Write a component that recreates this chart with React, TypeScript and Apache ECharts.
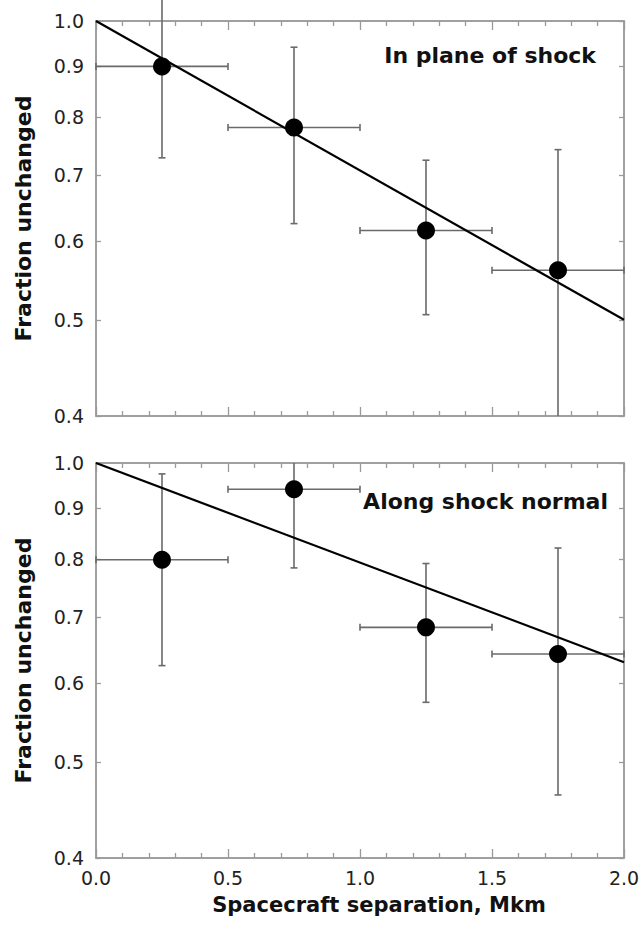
import React, { useEffect, useRef } from "react";
import * as echarts from "echarts";

// Bin centres and widths (Mkm)
const xCenters = [0.25, 0.75, 1.25, 1.75];
const xLow = [0.0, 0.5, 1.0, 1.5];
const xHigh = [0.5, 1.0, 1.5, 2.0];

// Panel 1: In plane of shock
const planeFrac = [0.9, 0.781, 0.615, 0.561];
const planeLow = [0.728, 0.625, 0.506, 0.4];
const planeHigh = [1.05, 0.941, 0.724, 0.742];
const planeFit = [1.0, 0.5];

// Panel 2: Along shock normal
const normalFrac = [0.799, 0.941, 0.683, 0.642];
const normalLow = [0.625, 0.784, 0.574, 0.463];
const normalHigh = [0.975, 1.0, 0.792, 0.821];
const normalFit = [1.0, 0.63];

const fitX = [0.0, 2.0];
const yTicks = [0.4, 0.5, 0.6, 0.7, 0.8, 0.9, 1.0];
const yMin = 0.4;
const yMax = 1.0;

const panelTitles = ["In plane of shock", "Along shock normal"];
const yTitle = "Fraction unchanged";
const xTitle = "Spacecraft separation, Mkm";

const L = (v: number) => Math.log10(v);

const FONT = "DejaVu Sans";
const AXIS_GRAY = "#9a9a9a";
const BAR_GRAY = "#6a6a6a";

export default function App() {
  const ref = useRef<HTMLDivElement>(null);

  useEffect(() => {
    if (!ref.current) return;
    const chart = echarts.init(ref.current, null, { renderer: "svg" });

    const gridBase = {
      left: 96,
      width: 528,
      height: 395,
      containLabel: false,
      outerBoundsMode: "none",
      show: true,
      borderColor: AXIS_GRAY,
      borderWidth: 1.5,
      backgroundColor: "transparent",
    };
    const grids = [
      { ...gridBase, top: 21 },
      { ...gridBase, top: 463 },
    ];

    const mkX = (gridIndex: number, position: string, labels: boolean, name?: string) => ({
      type: "value",
      gridIndex,
      position,
      min: 0,
      max: 2,
      interval: 0.5,
      name: name || "",
      nameLocation: "middle",
      nameGap: 36,
      nameMoveOverlap: false,
      nameTextStyle: {
        fontFamily: FONT,
        fontWeight: "bold",
        fontSize: 21,
        color: "#111",
        padding: [0, 0, 0, 38],
      },
      axisLine: { show: true, onZero: false, lineStyle: { color: AXIS_GRAY, width: 1.5 } },
      axisTick: { show: true, inside: true, length: 9, lineStyle: { color: AXIS_GRAY, width: 1.3 } },
      minorTick: { show: true, splitNumber: 5, length: 5, lineStyle: { color: AXIS_GRAY, width: 1.3 } },
      splitLine: { show: false },
      axisLabel: {
        show: labels,
        margin: 10,
        fontFamily: FONT,
        fontSize: 19,
        color: "#222",
        formatter: (v: number) => v.toFixed(1),
      },
    });

    const tickVals = yTicks.map(L);
    const mkY = (gridIndex: number, position: string, labels: boolean, name?: string) => ({
      type: "value",
      gridIndex,
      position,
      min: L(yMin),
      max: L(yMax),
      name: name || "",
      nameLocation: "middle",
      nameRotate: 90,
      nameGap: 62,
      nameMoveOverlap: false,
      nameTextStyle: { fontFamily: FONT, fontWeight: "bold", fontSize: 22, color: "#111" },
      axisLine: { show: true, onZero: false, lineStyle: { color: AXIS_GRAY, width: 1.5 } },
      axisTick: {
        show: true,
        inside: true,
        length: 5,
        customValues: tickVals,
        lineStyle: { color: AXIS_GRAY, width: 1.3 },
      },
      splitLine: { show: false },
      axisLabel: {
        show: labels,
        margin: 12,
        fontFamily: FONT,
        fontSize: 19,
        color: "#222",
        customValues: tickVals,
        formatter: (v: number) => Math.pow(10, v).toFixed(1),
      },
    });

    const errData = (frac: number[], lo: number[], hi: number[]) =>
      xCenters.map((x, i) => [x, L(frac[i]), xLow[i], xHigh[i], L(lo[i]), L(hi[i]), lo[i], hi[i]]);

    const renderErr = (params: any, api: any) => {
      const x = api.value(0);
      const y = api.value(1);
      const xl = api.value(2);
      const xh = api.value(3);
      const yl = api.value(4);
      const yh = api.value(5);
      const rawLo = api.value(6);
      const rawHi = api.value(7);
      const pl = api.coord([xl, y]);
      const ph = api.coord([xh, y]);
      const vl = api.coord([x, yl]);
      const vh = api.coord([x, yh]);
      const style = { stroke: BAR_GRAY, lineWidth: 1.6 };
      const cap = 3.5;
      const children: any[] = [
        { type: "line", shape: { x1: pl[0], y1: pl[1], x2: ph[0], y2: ph[1] }, style },
        { type: "line", shape: { x1: pl[0], y1: pl[1] - cap, x2: pl[0], y2: pl[1] + cap }, style },
        { type: "line", shape: { x1: ph[0], y1: ph[1] - cap, x2: ph[0], y2: ph[1] + cap }, style },
        { type: "line", shape: { x1: vl[0], y1: vl[1], x2: vh[0], y2: vh[1] }, style },
      ];
      if (rawLo > yMin + 1e-9) {
        children.push({ type: "line", shape: { x1: vl[0] - cap, y1: vl[1], x2: vl[0] + cap, y2: vl[1] }, style });
      }
      if (rawHi < yMax - 1e-9) {
        children.push({ type: "line", shape: { x1: vh[0] - cap, y1: vh[1], x2: vh[0] + cap, y2: vh[1] }, style });
      }
      return { type: "group", children };
    };

    // primary axes (bottom/left) carry the error bars and fit; secondary axes (top/right) the points
    const panelSeries = (pIdx: number, sIdx: number, frac: number[], lo: number[], hi: number[], fit: number[]) => [
      {
        type: "custom",
        xAxisIndex: pIdx,
        yAxisIndex: pIdx,
        clip: false,
        renderItem: renderErr,
        data: errData(frac, lo, hi),
        z: 2,
      },
      {
        type: "line",
        xAxisIndex: pIdx,
        yAxisIndex: pIdx,
        data: fitX.map((x, i) => [x, L(fit[i])]),
        showSymbol: false,
        lineStyle: { color: "#000", width: 2.2 },
        z: 3,
      },
      {
        type: "scatter",
        xAxisIndex: sIdx,
        yAxisIndex: sIdx,
        data: xCenters.map((x, i) => [x, L(frac[i])]),
        symbol: "circle",
        symbolSize: 18,
        itemStyle: { color: "#000", opacity: 1 },
        z: 4,
      },
    ];

    const titleStyle = { fontFamily: FONT, fontWeight: "bold", fontSize: 22, color: "#111" };

    const option: any = {
      animation: false,
      backgroundColor: "#fff",
      title: [
        { text: panelTitles[0], right: 44, top: 44, padding: 0, textStyle: titleStyle },
        { text: panelTitles[1], right: 32, top: 490, padding: 0, textStyle: titleStyle },
      ],
      grid: grids,
      xAxis: [
        mkX(0, "bottom", false),
        mkX(0, "top", false),
        mkX(1, "bottom", true, xTitle),
        mkX(1, "top", false),
      ],
      yAxis: [
        mkY(0, "left", true, yTitle),
        mkY(0, "right", false),
        mkY(1, "left", true, yTitle),
        mkY(1, "right", false),
      ],
      series: [
        ...panelSeries(0, 1, planeFrac, planeLow, planeHigh, planeFit),
        ...panelSeries(2, 3, normalFrac, normalLow, normalHigh, normalFit),
      ],
    };

    chart.setOption(option);
    return () => chart.dispose();
  }, []);

  return (
    <div
      ref={ref}
      style={{ position: "absolute", left: 0, top: 0, width: 640, height: 925, background: "#fff" }}
    />
  );
}
